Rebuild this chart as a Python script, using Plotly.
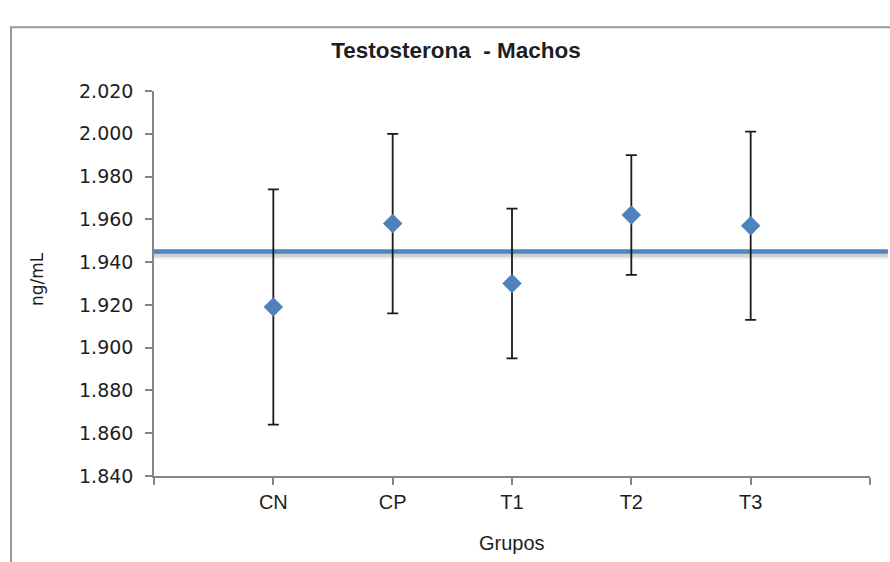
import plotly.graph_objects as go

# Group means (ng/mL) with their error-bar half widths
groups = ["CN", "CP", "T1", "T2", "T3"]
means = [1.919, 1.958, 1.930, 1.962, 1.957]
errors = [0.055, 0.042, 0.035, 0.028, 0.044]
overall_mean = 1.945

y_ticks = [1.84, 1.86, 1.88, 1.90, 1.92, 1.94, 1.96, 1.98, 2.00, 2.02]

positions = list(range(1, len(groups) + 1))
tick_positions = list(range(0, len(groups) + 2))
tick_labels = [""] + groups + [""]

BLUE = "#4F81BD"
AXIS = "#868686"
TEXT = "#1e1e1e"
SANS = "Liberation Sans, Arial"

fig = go.Figure()

fig.add_trace(go.Scatter(
    x=positions,
    y=means,
    mode="markers",
    marker=dict(symbol="diamond", size=15, color=BLUE, line=dict(width=0)),
    error_y=dict(type="data", array=errors, visible=True,
                 color="#1a1a1a", thickness=1.8, width=5.5),
    cliponaxis=False,
    showlegend=False,
))

# Horizontal reference line at the overall mean, with a soft drop shadow
for off, alpha, w in [(-4, 0.07, 7), (-3, 0.12, 5)]:
    fig.add_shape(type="line", xref="paper", yref="y",
                  x0=0, x1=1.025, ysizemode="pixel", yanchor=overall_mean,
                  y0=off, y1=off, line=dict(color=f"rgba(0,0,0,{alpha})", width=w),
                  layer="below")
fig.add_shape(type="line", xref="paper", yref="y",
              x0=0, x1=1.025, y0=overall_mean, y1=overall_mean,
              line=dict(color="#4F86C4", width=4.5), layer="below")

# Chart frame
fig.add_shape(type="rect", xref="paper", yref="paper",
              x0=-0.1997, x1=1.06, y0=-0.35, y1=1.1653,
              line=dict(color="#999999", width=2), fillcolor="rgba(0,0,0,0)",
              layer="below")

fig.update_layout(
    width=890, height=562,
    margin=dict(l=154, r=20, t=91, b=86),
    paper_bgcolor="white",
    plot_bgcolor="white",
    title=dict(text="<b>Testosterona\u00a0 - Machos</b>",
               x=456 / 890, xanchor="center", xref="container",
               y=1 - 50 / 562, yanchor="middle", yref="container",
               font=dict(family=SANS, size=22.5, color=TEXT)),
    xaxis=dict(range=[0, len(groups) + 1], tickmode="array",
               tickvals=tick_positions, ticktext=tick_labels,
               showgrid=False, zeroline=False,
               showline=True, linecolor=AXIS, linewidth=1.5,
               ticks="outside", ticklen=7, tickcolor=AXIS, tickwidth=1.5,
               tickfont=dict(family=SANS, size=20, color=TEXT)),
    yaxis=dict(range=[y_ticks[0], y_ticks[-1]], tickmode="array",
               tickvals=y_ticks, ticktext=[f"{v:.3f}" for v in y_ticks],
               showgrid=False, zeroline=False,
               showline=True, linecolor=AXIS, linewidth=1.5,
               ticks="outside", ticklen=7, tickcolor=AXIS, tickwidth=1.5,
               ticklabelstandoff=8,
               tickfont=dict(family="DejaVu Sans, Verdana", size=19, color=TEXT)),
    annotations=[
        dict(text="Grupos", xref="paper", yref="paper",
             x=0.5, y=(476 - 543) / 385, xanchor="center", yanchor="middle",
             showarrow=False,
             font=dict(family=SANS, size=20, color=TEXT)),
        dict(text="ng/mL", xref="paper", yref="paper",
             x=(37 - 154) / 716, y=(476 - 279) / 385, xanchor="center", yanchor="middle",
             textangle=-90, showarrow=False,
             font=dict(family="DejaVu Sans, Verdana", size=17, color=TEXT)),
    ],
)

fig.write_html("out.html")
